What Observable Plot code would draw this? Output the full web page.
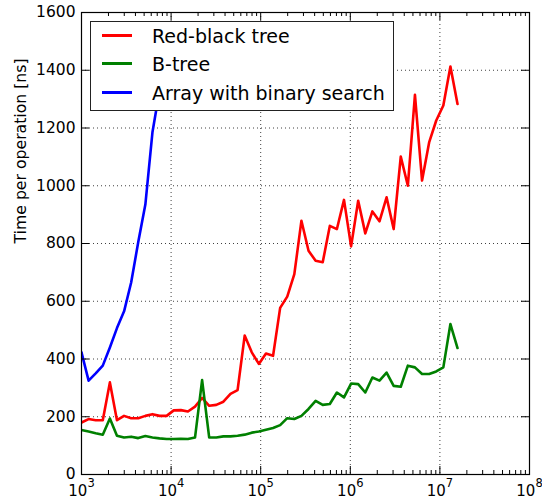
<!DOCTYPE html>
<html><head><meta charset="utf-8">
<script src="https://cdn.jsdelivr.net/npm/d3@7"></script>
<script src="https://cdn.jsdelivr.net/npm/@observablehq/plot@0.6"></script>
<style>
html,body{margin:0;padding:0;background:#fff;}
#wrap{position:relative;width:542px;height:499px;overflow:hidden;font-family:"DejaVu Sans",sans-serif;}
#legend{position:absolute;left:90px;top:21px;width:302px;height:88px;border:1.5px solid #222;background:#fff;}
.sw{position:absolute;left:11px;width:30px;height:3px;}
.lt{position:absolute;left:61px;font-size:19px;line-height:22px;color:#000;white-space:nowrap;}
</style>
</head><body>
<div id="wrap"></div>
<script>
const sizes = [1000, 1200, 1440, 1728, 2074, 2488, 2986, 3583, 4300, 5160, 6192, 7430, 8916, 10699, 12839, 15407, 18488, 22186, 26623, 31948, 38338, 46005, 55206, 66247, 79497, 95396, 114475, 137370, 164845, 197814, 237376, 284851, 341822, 410186, 492223, 590668, 708801, 850562, 1020674, 1224809, 1469771, 1763725, 2116470, 2539764, 3047716, 3657260, 4388712, 5266454, 6319745, 7583694, 9100432, 10920519, 13104623, 15725547];
const redBlack = [180, 192, 188, 188, 319, 188, 203, 195, 195, 203, 209, 203, 203, 222, 223, 218, 235, 265, 238, 241, 252, 279, 292, 481, 423, 383, 419, 411, 577, 616, 694, 879, 775, 740, 735, 861, 850, 951, 790, 948, 835, 911, 877, 960, 850, 1101, 1000, 1315, 1018, 1150, 1226, 1278, 1413, 1283];
const bTree = [154, 149, 143, 138, 194, 134, 128, 131, 126, 133, 128, 125, 123, 123, 124, 123, 128, 327, 128, 128, 132, 132, 134, 138, 145, 149, 155, 161, 171, 195, 192, 203, 227, 255, 241, 244, 284, 267, 315, 313, 284, 336, 325, 353, 307, 304, 377, 371, 348, 348, 357, 371, 521, 438];
const arrayBinary = [423, 325, 350, 377, 440, 507, 565, 665, 805, 935, 1185, 1330];
const seriesNames = ["Red-black tree", "B-tree", "Array with binary search"];
const seriesColors = ["#ff0000", "#008000", "#0000ff"];
const xTicks = [1e3, 1e4, 1e5, 1e6, 1e7, 1e8];
const xTickExponents = ["3", "4", "5", "6", "7", "8"];
const yTicks = [0, 200, 400, 600, 800, 1000, 1200, 1400, 1600];
const yTickLabels = ["0", "200", "400", "600", "800", "1000", "1200", "1400", "1600"];
const yLabel = "Time per operation [ns]";

const rows = [];
[redBlack, bTree, arrayBinary].forEach((vals, s) =>
  vals.forEach((v, i) => rows.push({series: seriesNames[s], n: sizes[i], t: v})));
const minorX = [];
for (let e = 3; e < 8; e++) for (let m = 2; m <= 9; m++) minorX.push(m * 10 ** e);

const W = 542, H = 499, ML = 81, MR = 13, MT = 12, MB = 25;
const FW = W - ML - MR, FH = H - MT - MB;
const supMap = {"3":"³","4":"⁴","5":"⁵","6":"⁶","7":"⁷","8":"⁸"};

const chart = Plot.plot({
  width: W, height: H,
  marginLeft: ML, marginRight: MR, marginTop: MT, marginBottom: MB,
  style: {fontFamily: "'DejaVu Sans', sans-serif", fontSize: "15px", color: "#000", background: "#fff", overflow: "visible"},
  x: {type: "log", domain: [1e3, 1e8]},
  y: {domain: [0, 1600]},
  color: {domain: seriesNames, range: seriesColors},
  marks: [
    Plot.gridX(xTicks, {stroke: "#000", strokeOpacity: 0.75, strokeDasharray: "1,3", strokeWidth: 1}),
    Plot.gridY(yTicks, {stroke: "#000", strokeOpacity: 0.75, strokeDasharray: "1,3", strokeWidth: 1}),
    Plot.line(rows, {x: "n", y: "t", z: "series", stroke: "series", strokeWidth: 2.6, clip: true}),
    Plot.frame({stroke: "#000", strokeWidth: 1.2}),
    Plot.tickX(xTicks, {x: d => d, insetTop: FH - 8, stroke: "#000"}),
    Plot.tickX(xTicks, {x: d => d, insetBottom: FH - 8, stroke: "#000"}),
    Plot.tickX(minorX, {x: d => d, insetTop: FH - 4, stroke: "#000"}),
    Plot.tickX(minorX, {x: d => d, insetBottom: FH - 4, stroke: "#000"}),
    Plot.tickY(yTicks, {y: d => d, insetRight: FW - 8, stroke: "#000"}),
    Plot.tickY(yTicks, {y: d => d, insetLeft: FW - 8, stroke: "#000"}),
    Plot.axisX(xTicks, {tickSize: 0, tickPadding: 11, fontSize: 15, label: null,
      tickFormat: d => "10" + supMap[xTickExponents[xTicks.indexOf(d)]]}),
    Plot.axisY(yTicks, {tickSize: 0, tickPadding: 6, fontSize: 15.5, label: null,
      tickFormat: d => yTickLabels[yTicks.indexOf(d)]}),
    Plot.text([yLabel], {frameAnchor: "left", rotate: -90, dx: -61, text: d => d, lineAnchor: "middle", fontSize: 15.7, fill: "#000"})
  ]
});

// render exponents like matplotlib mathtext
const invSup = {"³":"3","⁴":"4","⁵":"5","⁶":"6","⁷":"7","⁸":"8"};
chart.querySelectorAll('g[aria-label="x-axis tick label"] text').forEach(t => {
  const target = t.querySelector("tspan") || t;
  const s = target.textContent;
  const exp = invSup[s.slice(2)];
  if (!exp) return;
  target.textContent = "10";
  const ts = document.createElementNS("http://www.w3.org/2000/svg", "tspan");
  ts.setAttribute("dy", "-9");
  ts.setAttribute("font-size", "11.5");
  ts.textContent = exp;
  target.appendChild(ts);
});

const wrap = document.getElementById("wrap");
wrap.appendChild(chart);

const legend = document.createElement("div");
legend.id = "legend";
const rowCenters = [13.5, 41.8, 70.2];
seriesNames.forEach((name, i) => {
  const sw = document.createElement("div");
  sw.className = "sw";
  sw.style.top = (rowCenters[i] - 1.5) + "px";
  sw.style.background = seriesColors[i];
  legend.appendChild(sw);
  const lt = document.createElement("div");
  lt.className = "lt";
  lt.style.top = (rowCenters[i] - 10.7) + "px";
  lt.textContent = name;
  legend.appendChild(lt);
});
wrap.appendChild(legend);
</script>
</body></html>
